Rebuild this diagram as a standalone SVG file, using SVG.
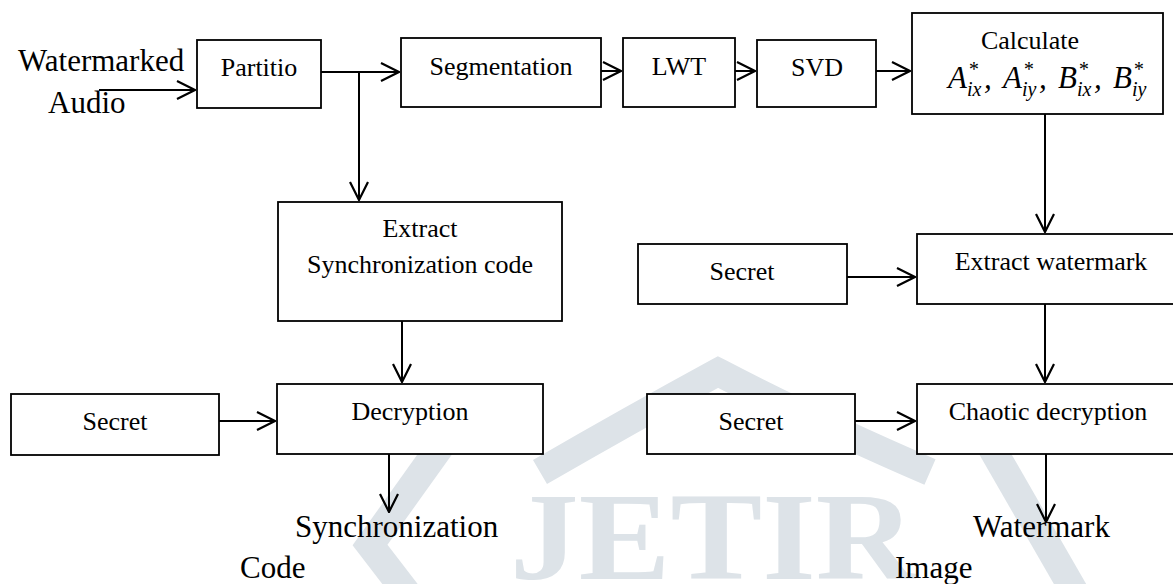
<svg xmlns="http://www.w3.org/2000/svg" width="1173" height="584" viewBox="0 0 1173 584">
<style>
.box{fill:#fff;stroke:#000;stroke-width:1.8}
.t{font-family:"Liberation Serif","Times New Roman",serif;font-size:26px;fill:#000;text-anchor:middle}
.lbl{font-family:"Liberation Serif","Times New Roman",serif;font-size:31px;fill:#000}
.m{font-family:"Liberation Serif","Times New Roman",serif;font-style:italic;fill:#000}
.c{fill:none;stroke:#000;stroke-width:2;marker-end:url(#ah)}
.wm{fill:none;stroke:#dde3e8;stroke-width:28}
</style>
<defs>
<marker id="ah" viewBox="0 0 20 20" refX="19" refY="10" markerWidth="20" markerHeight="20" orient="auto" markerUnits="userSpaceOnUse">
<path d="M1,1 L19,10 L1,19" fill="none" stroke="#000" stroke-width="2.2"/>
</marker>
</defs>
<rect width="1173" height="584" fill="#fff"/>
<g id="watermark-bg">
<path class="wm" d="M445 440 L370 545 L420 610"/>
<path class="wm" d="M540 472 Q630 420 718 372 Q810 420 930 472"/>
<path class="wm" d="M990 445 L1085 610"/>
<text x="510" y="579" font-family="Liberation Serif, serif" font-weight="bold" font-size="125" fill="#dde3e8" textLength="405" lengthAdjust="spacingAndGlyphs">JETIR</text>
</g>
<g id="connectors">
<path class="c" d="M99 90 H195"/>
<path class="c" d="M321 72 H399"/>
<path class="c" d="M359 72 V200"/>
<path class="c" d="M601 71 H621"/>
<path class="c" d="M735 71 H755"/>
<path class="c" d="M876 71 H910"/>
<path class="c" d="M1045 114 V232"/>
<path class="c" d="M847 277 H915"/>
<path class="c" d="M1045 304 V382"/>
<path class="c" d="M855 421 H915"/>
<path class="c" d="M1046 454 V522"/>
<path class="c" d="M402 321 V382"/>
<path class="c" d="M219 421 H275"/>
<path class="c" d="M389 454 V512"/>
</g>
<g id="label-input">
<text class="lbl" x="18" y="71">Watermarked</text>
<text class="lbl" x="48" y="113">Audio</text>
</g>
<g id="partitio"><rect class="box" x="197" y="40" width="124" height="68"/><text class="t" x="259" y="76">Partitio</text></g>
<g id="segmentation"><rect class="box" x="401" y="38" width="200" height="69"/><text class="t" x="501" y="75">Segmentation</text></g>
<g id="lwt"><rect class="box" x="623" y="38" width="112" height="69"/><text class="t" x="679" y="75">LWT</text></g>
<g id="svd"><rect class="box" x="757" y="40" width="119" height="67"/><text class="t" x="817" y="76">SVD</text></g>
<g id="calculate"><rect class="box" x="912" y="13" width="251" height="101"/>
<text class="t" x="1030" y="49" font-size="28">Calculate</text>
<text class="m" font-size="31">
<tspan x="948" y="88">A</tspan><tspan x="968" y="76" font-size="20">*</tspan><tspan x="967" y="96" font-size="20">ix</tspan><tspan x="984" y="88">,</tspan>
<tspan x="1003" y="88">A</tspan><tspan x="1023" y="76" font-size="20">*</tspan><tspan x="1022" y="96" font-size="20">iy</tspan><tspan x="1039" y="88">,</tspan>
<tspan x="1058" y="88">B</tspan><tspan x="1078" y="76" font-size="20">*</tspan><tspan x="1077" y="96" font-size="20">ix</tspan><tspan x="1094" y="88">,</tspan>
<tspan x="1113" y="88">B</tspan><tspan x="1133" y="76" font-size="20">*</tspan><tspan x="1132" y="96" font-size="20">iy</tspan>
</text></g>
<g id="extract-sync"><rect class="box" x="278" y="202" width="284" height="119"/><text class="t" x="420" y="237">Extract</text><text class="t" x="420" y="273">Synchronization code</text></g>
<g id="secret-1"><rect class="box" x="11" y="394" width="208" height="61"/><text class="t" x="115" y="430">Secret</text></g>
<g id="decryption"><rect class="box" x="277" y="384" width="266" height="70"/><text class="t" x="410" y="420">Decryption</text></g>
<g id="secret-2"><rect class="box" x="638" y="244" width="209" height="60"/><text class="t" x="742" y="280">Secret</text></g>
<g id="extract-watermark"><rect class="box" x="917" y="234" width="262" height="70"/><text class="t" x="1051" y="270">Extract watermark</text></g>
<g id="secret-3"><rect class="box" x="647" y="394" width="208" height="60"/><text class="t" x="751" y="430">Secret</text></g>
<g id="chaotic-decryption"><rect class="box" x="917" y="384" width="262" height="70"/><text class="t" x="1048" y="420">Chaotic decryption</text></g>
<g id="label-sync"><text class="lbl" x="295" y="537">Synchronization</text><text class="lbl" x="240" y="578">Code</text></g>
<g id="label-watermark"><text class="lbl" x="973" y="537">Watermark</text><text class="lbl" x="895" y="578">Image</text></g>
</svg>
